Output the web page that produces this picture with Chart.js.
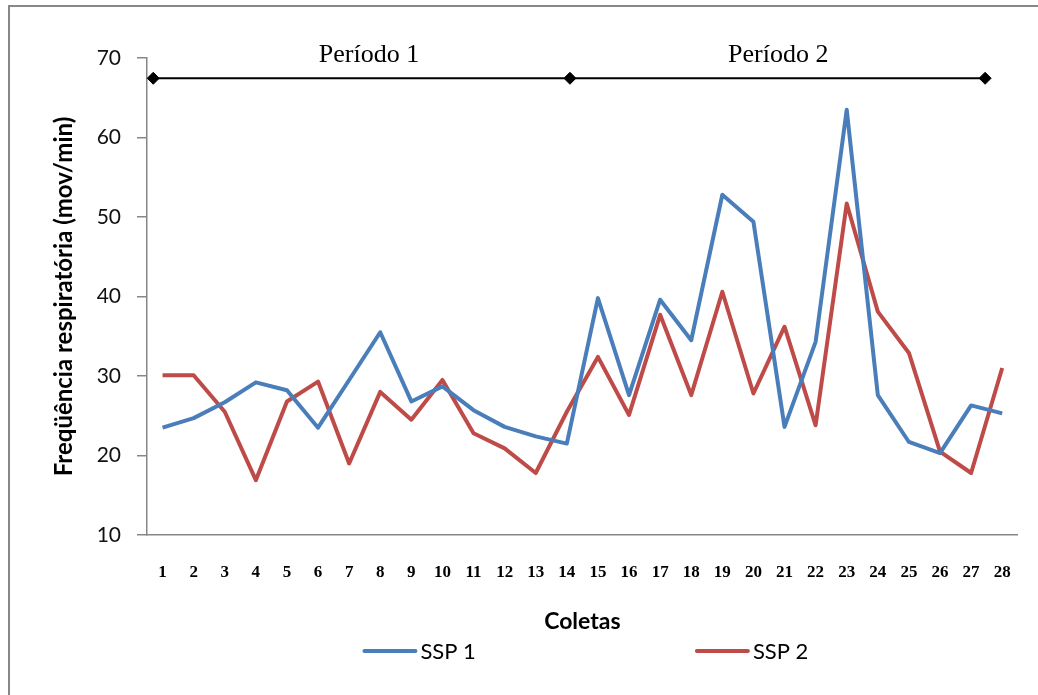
<!DOCTYPE html>
<html>
<head>
<meta charset="utf-8">
<title>Freqüência respiratória</title>
<script src="https://cdn.jsdelivr.net/npm/chart.js@4.4.0/dist/chart.umd.min.js"></script>
<style>
  html, body { margin: 0; padding: 0; background: #fff; }
  #wrap { position: relative; width: 1038px; height: 695px; overflow: hidden; }
  #frame { position: absolute; left: 8px; top: 5px; width: 1100px; height: 800px; border: 2px solid #878787; box-sizing: border-box; }
  #myChart { position: absolute; left: 0; top: 0; }
</style>
</head>
<body>
<div id="wrap">
  <div id="frame"></div>
  <canvas id="myChart" width="1038" height="695"></canvas>
</div>
<script>
'use strict';

// coletas 1..28
let coletas = ['1', '2', '3', '4', '5', '6', '7', '8', '9', '10', '11', '12', '13', '14',
  '15', '16', '17', '18', '19', '20', '21', '22', '23', '24', '25', '26', '27', '28'];

let ssp1 = [23.5, 24.7, 26.7, 29.2, 28.2, 23.5, 29.5, 35.5, 26.8, 28.7, 25.7, 23.6, 22.4, 21.5,
  39.8, 27.6, 39.6, 34.5, 52.8, 49.4, 23.6, 34.3, 63.5, 27.6, 21.7, 20.3, 26.3, 25.3];

let ssp2 = [30.1, 30.1, 25.5, 16.9, 26.8, 29.3, 19.0, 28.0, 24.5, 29.5, 22.8, 20.9, 17.8, 25.5,
  32.4, 25.1, 37.7, 27.6, 40.6, 27.8, 36.2, 23.8, 51.7, 38.1, 32.9, 20.5, 17.8, 31.0];

let yTicks = [10, 20, 30, 40, 50, 60, 70];

// the two periods marked above the lines (x in coleta units)
let periodos = ['Período 1', 'Período 2'];
let periodoX = [7.64, 20.8];
let periodoY = 70.4;
let bracketX = [0.7, 14.1, 27.45];
let bracketY = 67.45;

let blue = '#4a7ebb';
let red = '#be4b48';
let axisGray = '#868686';

let periodLabels = {
  id: 'periodLabels',
  afterDatasetsDraw(chart) {
    let ctx = chart.ctx;
    let sx = chart.scales.x2;
    let sy = chart.scales.y;
    ctx.save();
    ctx.font = '26px "Liberation Serif"';
    ctx.fillStyle = '#000';
    ctx.textAlign = 'center';
    ctx.textBaseline = 'middle';
    for (let i = 0; i < periodos.length; i++) {
      ctx.fillText(periodos[i], sx.getPixelForValue(periodoX[i]), sy.getPixelForValue(periodoY));
    }
    ctx.restore();
  }
};

// legend drawn under the axis title, spread like the original
let bottomLegend = {
  id: 'bottomLegend',
  afterDraw(chart) {
    let ctx = chart.ctx;
    let area = chart.chartArea;
    let items = chart.data.datasets.filter(d => !d.isBracket);
    let lineW = 55, gap = 3, spread = 219;
    ctx.save();
    ctx.font = '22px Lato';
    ctx.textBaseline = 'middle';
    ctx.textAlign = 'left';
    let widths = items.map(d => lineW + gap + ctx.measureText(d.label).width);
    let total = widths.reduce((a, b) => a + b, 0) + spread * (items.length - 1);
    let x = (area.left + area.right) / 2 + 3 - total / 2;
    let y = area.bottom + 116;
    items.forEach((d, i) => {
      ctx.strokeStyle = d.borderColor;
      ctx.lineWidth = 4;
      ctx.lineCap = 'round';
      ctx.beginPath();
      ctx.moveTo(x + 2, y);
      ctx.lineTo(x + lineW - 2, y);
      ctx.stroke();
      ctx.fillStyle = '#000';
      ctx.fillText(d.label, x + lineW + gap, y + 1);
      x += widths[i] + spread;
    });
    ctx.restore();
  }
};

let bracketData = bracketX.map(v => ({ x: v, y: bracketY }));

let ctx = document.getElementById('myChart').getContext('2d');
let myChart = new Chart(ctx, {
  type: 'line',
  data: {
    labels: coletas,
    datasets: [
      {
        label: 'SSP 1',
        data: ssp1,
        borderColor: blue,
        backgroundColor: blue,
        borderWidth: 4,
        borderJoinStyle: 'round',
        pointRadius: 0,
        tension: 0
      },
      {
        label: 'SSP 2',
        data: ssp2,
        borderColor: red,
        backgroundColor: red,
        borderWidth: 4,
        borderJoinStyle: 'round',
        pointRadius: 0,
        tension: 0
      },
      {
        label: 'periodos',
        isBracket: true,
        data: bracketData,
        xAxisID: 'x2',
        borderColor: '#000',
        backgroundColor: '#000',
        borderWidth: 2,
        pointStyle: 'rectRot',
        pointRadius: 6,
        pointBorderWidth: 1,
        clip: false
      }
    ]
  },
  options: {
    responsive: false,
    animation: false,
    layout: {
      padding: { left: 50, top: 58, right: 16, bottom: 60 }
    },
    plugins: {
      legend: { display: false },
      tooltip: { enabled: false }
    },
    scales: {
      x: {
        type: 'category',
        offset: true,
        grid: { display: true, drawOnChartArea: false, drawTicks: false, color: axisGray },
        border: { display: true, color: axisGray, width: 1.5 },
        ticks: {
          padding: 27,
          maxRotation: 0,
          autoSkip: false,
          color: '#000',
          font: { family: '"Liberation Serif"', size: 17, weight: 'bold' }
        },
        title: {
          display: true,
          text: 'Coletas',
          color: '#000',
          padding: { top: 0, bottom: 0 },
          font: { family: 'Lato', size: 23, weight: 'bold' }
        },
        afterFit(scale) { scale.height = 100; }
      },
      x2: {
        type: 'linear',
        display: false,
        min: 0.5,
        max: 28.5
      },
      y: {
        min: 10,
        max: 70,
        afterBuildTicks(scale) { scale.ticks = yTicks.map(v => ({ value: v })); },
        grid: { drawOnChartArea: false, drawTicks: true, tickLength: 10, color: axisGray, lineWidth: 1.5 },
        border: { display: true, color: axisGray, width: 1.5 },
        ticks: {
          padding: 16,
          color: '#111',
          font: { family: 'Lato', size: 21 }
        },
        title: {
          display: true,
          text: 'Freqüência respiratória (mov/min)',
          color: '#000',
          padding: { top: 0, bottom: 0 },
          font: { family: 'Lato', size: 24, weight: 'bold' }
        },
        afterFit(scale) { scale.width = 97; }
      }
    }
  },
  plugins: [periodLabels, bottomLegend]
});
</script>
</body>
</html>
